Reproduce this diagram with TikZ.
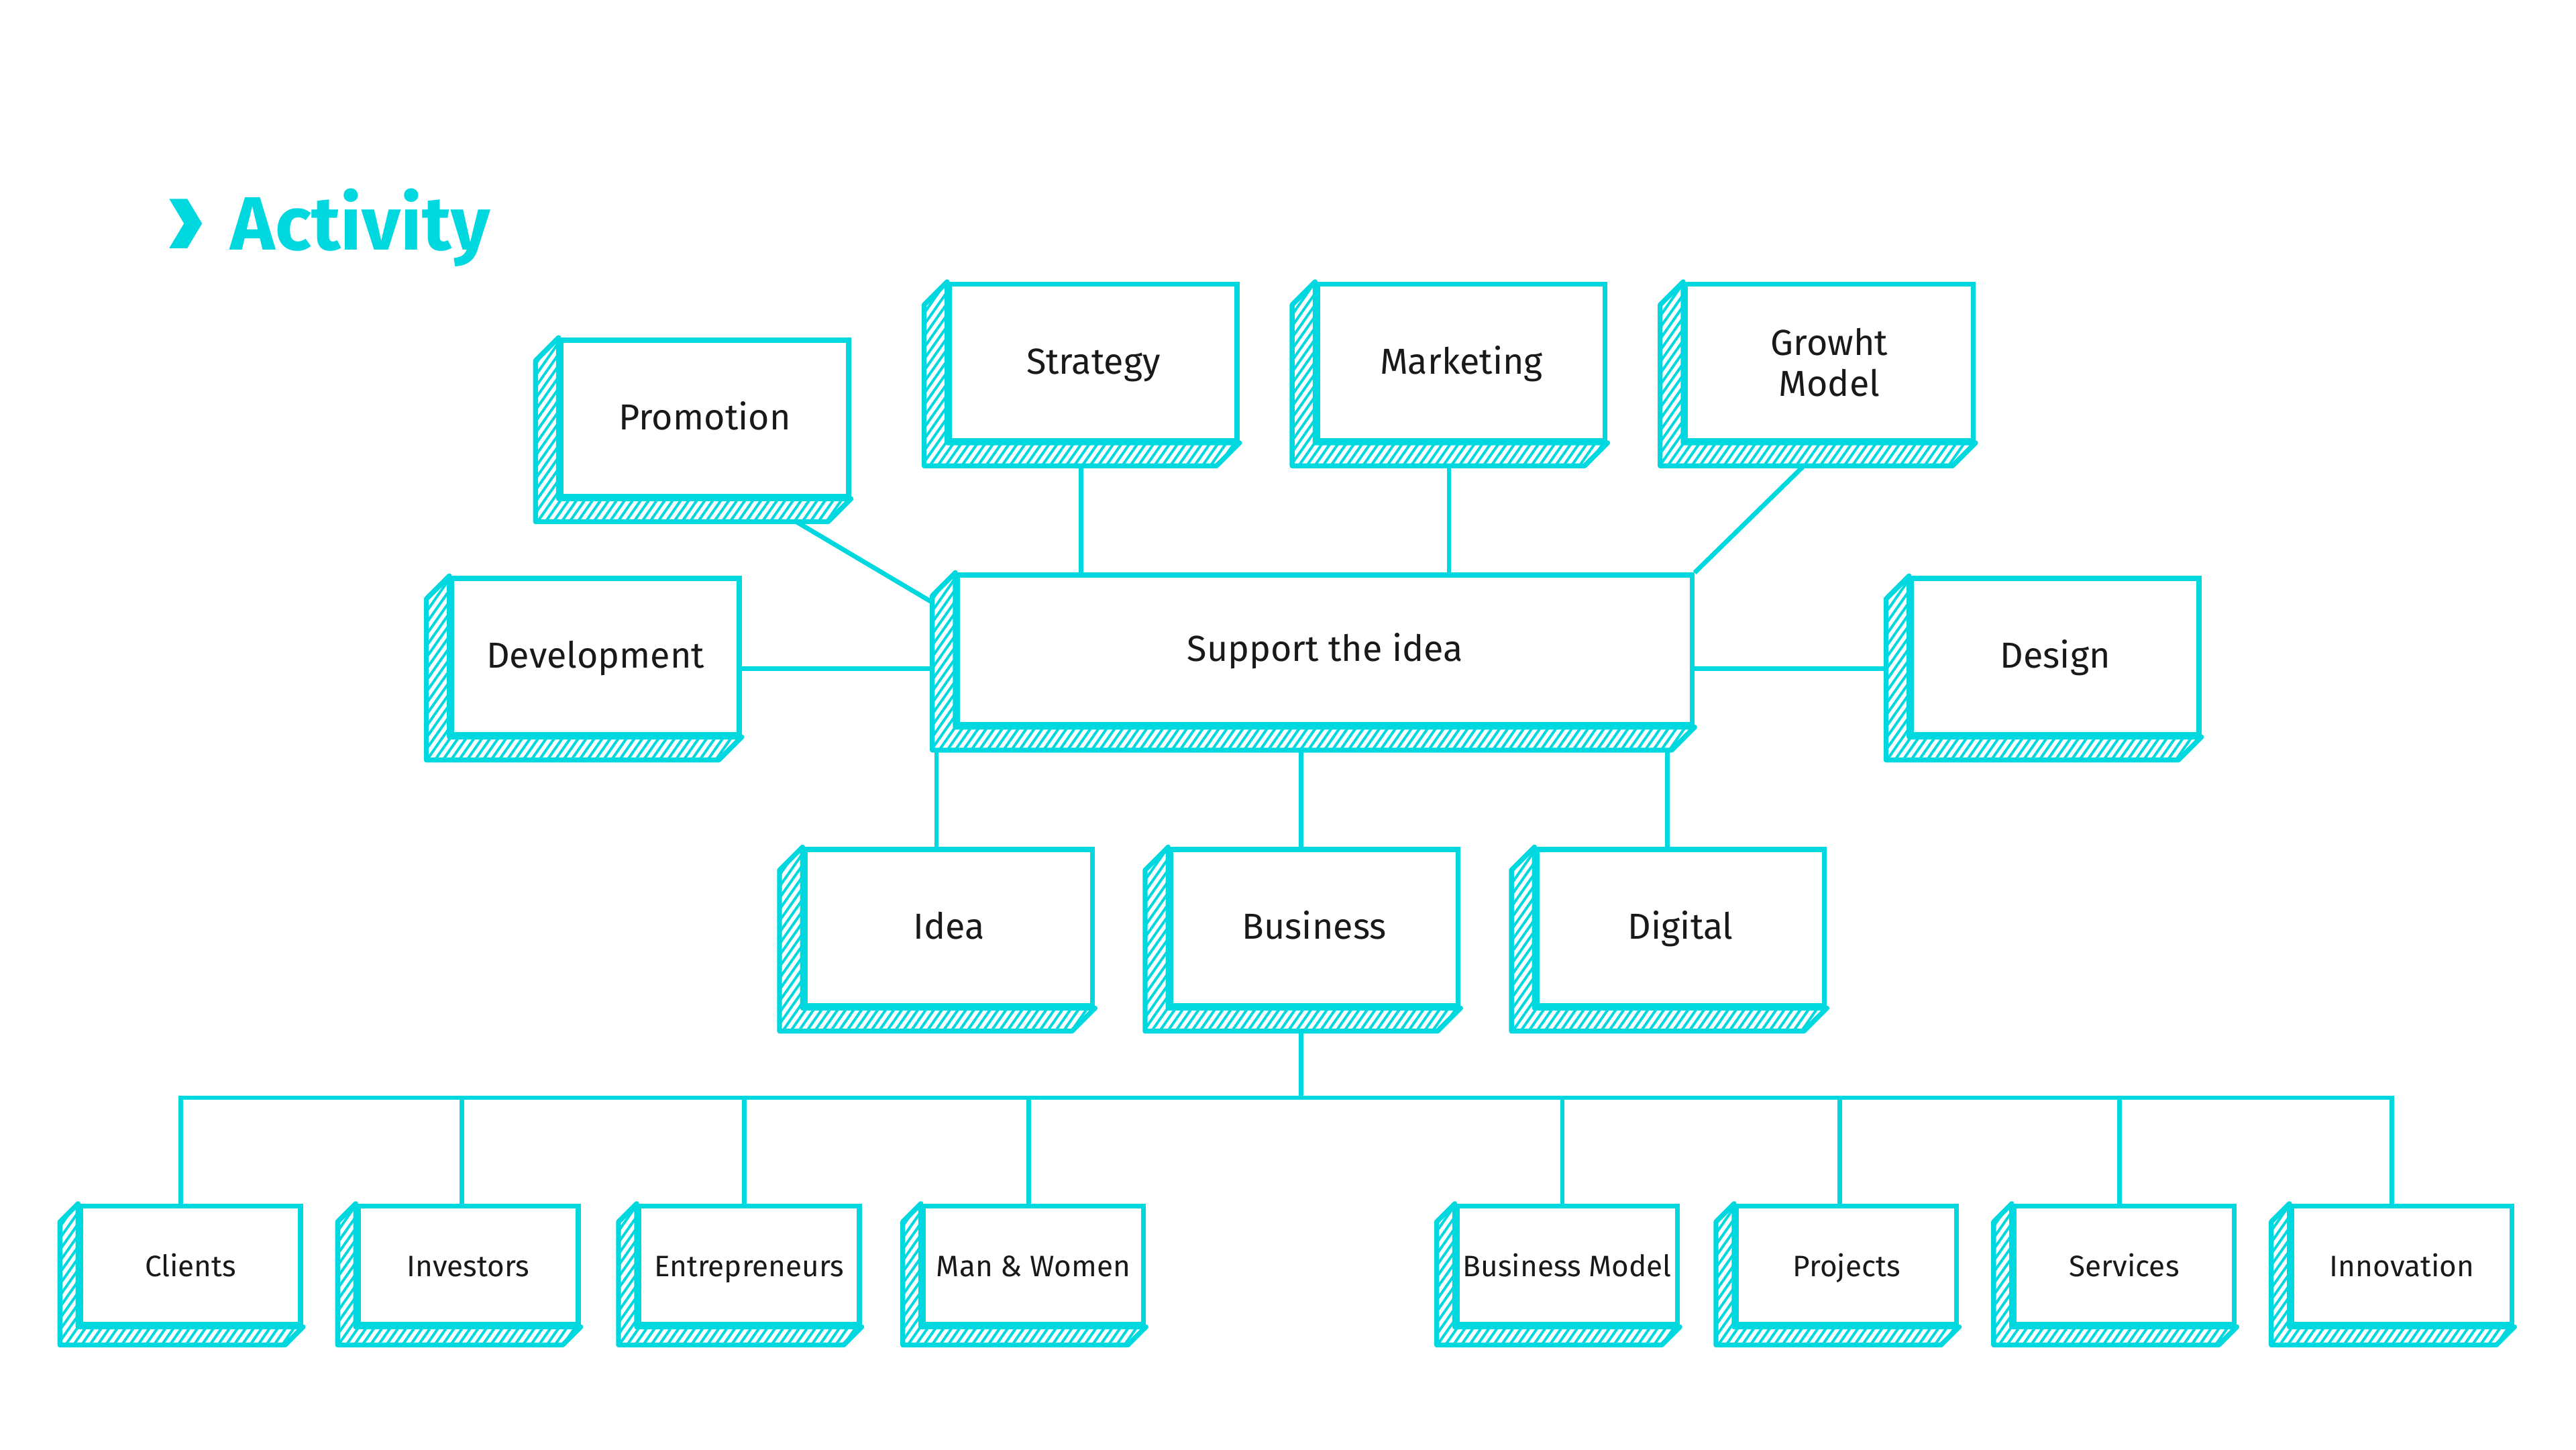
\documentclass[tikz,border=0pt]{standalone}
\usepackage{fontspec}
\setmainfont{Fira Sans}
\usetikzlibrary{patterns.meta,backgrounds}

\definecolor{cyanline}{RGB}{0,216,224}

% hatched side and bottom of a card
\newcommand{\drawslab}[2]{%
  \draw[hatch] (#1.north west) -- ++(-#2,#2) |- ([shift={(-#2,#2)}]#1.south east)
    -- (#1.south east) -- (#1.south west) -- cycle;}

\begin{document}
\begin{tikzpicture}[x=0.5pt,y=-0.5pt,
  card/.style={draw=cyanline, line width=1.5pt, fill=white, inner sep=0pt, align=center,
    text height=0.7em, text depth=0pt,
    minimum width=87.5pt, minimum height=47.5pt, text=black!90, font=\fontsize{11}{12.5}\selectfont},
  minicard/.style={card, minimum width=67pt, minimum height=36pt, font=\fontsize{9}{10}\selectfont},
  hatch/.style={draw=cyanline, line width=1.5pt, line join=round, preaction={fill=white},
    pattern={Lines[angle=55,distance=2pt,line width=0.8pt]}, pattern color=cyanline},
  link/.style={draw=cyanline, line width=1.4pt}]
\useasboundingbox (0,0) rectangle (1568,882.4);

% title
\fill[cyanline] (103,121) -- (114,121) -- (123,136) -- (114,151) -- (103,151) -- (112,136) -- cycle;
\node[anchor=base west, inner sep=0pt, text=cyanline, font=\fontsize{23}{25}\selectfont\bfseries] (title) at (140,152) {Activity};

% upper cards
\node[card] (promo) at (429,254.5) {Promotion};
\node[card] (strategy) at (665.5,220.5) {Strategy};
\node[card] (marketing) at (889.5,220.5) {Marketing};
\node[card, text height=, text depth=] (growth) at (1113.5,220.5) {Growht\\Model};
\node[card] (dev) at (362.5,399.5) {Development};
\node[card, minimum width=223.5pt, minimum height=45.5pt] (support) at (806.5,395.5) {Support the idea};
\node[card] (design) at (1251,399.5) {Design};
\node[card] (idea) at (577.5,564.5) {Idea};
\node[card] (business) at (800,564.5) {Business};
\node[card] (digital) at (1023,564.5) {Digital};

% lower cards
\node[minicard] (clients) at (116,770) {Clients};
\node[minicard] (investors) at (285,770) {Investors};
\node[minicard] (entrepreneurs) at (456,770) {Entrepreneurs};
\node[minicard] (manwomen) at (629,770) {Man \& Women};
\node[minicard] (bmodel) at (954,770) {Business Model};
\node[minicard] (projects) at (1124,770) {Projects};
\node[minicard] (services) at (1293,770) {Services};
\node[minicard] (innovation) at (1462,770) {Innovation};

\foreach \n in {promo,strategy,marketing,growth,dev,support,design,idea,business,digital}
  {\drawslab{\n}{14}}
\foreach \n in {clients,investors,entrepreneurs,manwomen,bmodel,projects,services,innovation}
  {\drawslab{\n}{11}}

% connectors
\begin{scope}[on background layer]
\coordinate (hub) at (792,668);
\draw[link] ([shift={(54,13)}]promo.south) -- ([shift={(-15,-29.5)}]support.west);
\draw[link] ([shift={(-14.5,13)}]growth.south) -- (support.north east);
\coordinate (d1) at ([shift={(0,7.5)}]dev.center);
\draw[link] (d1) -- (d1 -| design.center);
\foreach \n/\s in {strategy/-7.5,marketing/-7.5,idea/-7.5,digital/-8}
  {\coordinate (up) at ([shift={(\s,0)}]\n.center);
   \draw[link] (up) -- (up |- support.center);}
\draw[link] (hub |- support.center) -- (hub);
\foreach \n/\s in {clients/-6,investors/-4,entrepreneurs/-3,manwomen/-3,bmodel/-3,projects/-4,services/-3,innovation/-6}
  {\draw[link] ([shift={(\s,0)}]\n.center) |- (hub);}
\end{scope}
\end{tikzpicture}
\end{document}
